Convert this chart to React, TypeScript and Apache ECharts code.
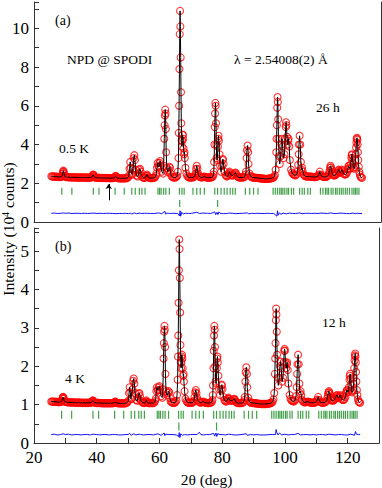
import React, { useEffect, useRef } from 'react';
import * as echarts from 'echarts';

const X_MIN = 20;
const X_MAX = 130;
const Y_MAX_A = 11.36;
const Y_MAX_B = 5.6;

// Panel (a): 0.5 K observed pattern (10^4 counts) as [2theta, intensity]
const obsA: number[][] = [
  [25.5,2.36],[25.8,2.35],[26.1,2.36],[26.4,2.34],[26.7,2.35],[27.0,2.33],[27.3,2.34],[27.6,2.33],[27.9,2.32],[28.2,2.33],[28.5,2.33],[28.7,2.34],
  [28.9,2.38],[29.1,2.5],[29.2,2.6],[29.3,2.65],[29.4,2.6],[29.5,2.52],[29.7,2.38],
  [30.0,2.33],[30.3,2.32],[30.6,2.31],[30.9,2.32],[31.2,2.31],[31.5,2.3],[31.8,2.31],[32.1,2.3],[32.4,2.31],[32.7,2.3],[33.0,2.3],[33.3,2.31],[33.6,2.3],[33.9,2.29],[34.2,2.3],[34.5,2.3],[34.8,2.29],[35.1,2.3],[35.4,2.3],[35.7,2.29],[36.0,2.3],[36.3,2.29],[36.6,2.3],[36.9,2.29],[37.2,2.29],[37.5,2.3],[37.8,2.29],[38.1,2.3],[38.35,2.32],
  [38.55,2.37],[38.7,2.43],[38.8,2.45],[38.9,2.42],[39.05,2.36],
  [39.3,2.3],[39.6,2.29],[39.9,2.28],[40.2,2.28],[40.5,2.29],[40.8,2.28],[41.1,2.27],[41.4,2.28],[41.7,2.28],[42.0,2.27],[42.3,2.28],[42.6,2.27],[42.9,2.27],[43.2,2.28],[43.5,2.27],[43.8,2.27],[44.1,2.26],[44.4,2.27],[44.7,2.27],[45.0,2.27],[45.3,2.28],
  [45.6,2.31],[45.8,2.36],[45.9,2.38],[46.0,2.36],[46.2,2.3],
  [46.5,2.27],[46.8,2.26],[47.1,2.26],[47.4,2.25],[47.7,2.26],[48.0,2.25],[48.3,2.26],[48.6,2.25],[48.9,2.26],[49.2,2.26],[49.5,2.27],[49.8,2.3],
  [50.1,2.4],[50.3,2.75],[50.5,3.1],[50.7,2.8],[50.9,2.5],[51.1,2.45],[51.4,2.75],[51.6,3.3],[51.8,3.45],[52.0,3.2],[52.2,2.7],[52.5,2.4],[52.9,2.35],[53.2,2.5],[53.4,2.7],[53.6,2.75],[53.8,2.6],[54.1,2.4],
  [54.5,2.3],[54.8,2.28],[55.1,2.28],[55.35,2.31],[55.6,2.38],[55.8,2.45],[56.0,2.38],[56.2,2.31],[56.5,2.28],[56.8,2.27],[57.1,2.27],[57.4,2.27],[57.7,2.27],[58.0,2.28],[58.3,2.3],[58.6,2.38],
  [58.8,2.5],[59.0,2.8],[59.2,3.05],[59.4,2.9],[59.6,2.85],[59.8,3.05],[60.0,3.15],[60.2,2.9],[60.5,2.6],[60.9,2.5],[61.1,2.9],[61.3,4.3],[61.4,5.0],[61.5,5.5],[61.6,5.8],[61.7,5.6],[61.8,4.8],[61.9,3.6],[62.1,2.8],[62.4,2.6],[62.7,2.7],[62.9,2.85],[63.1,2.8],[63.3,2.5],
  [63.6,2.36],[63.9,2.32],[64.2,2.3],[64.5,2.3],[64.8,2.3],[65.1,2.32],[65.4,2.38],
  [65.6,2.6],[65.8,3.3],[65.9,4.6],[66.0,6.0],[66.1,7.9],[66.2,9.7],[66.3,10.9],[66.4,10.1],[66.5,8.5],[66.6,6.7],[66.7,5.1],[66.8,4.2],[66.9,3.9],[67.0,4.2],[67.1,4.5],[67.2,4.5],[67.3,4.3],[67.4,3.8],[67.6,3.5],[67.7,3.6],[67.8,3.3],[68.0,2.8],[68.3,2.5],
  [68.6,2.38],[68.9,2.32],[69.2,2.3],[69.5,2.3],[69.8,2.3],[70.1,2.3],[70.4,2.31],[70.7,2.32],[71.0,2.4],
  [71.2,2.5],[71.4,2.75],[71.6,2.9],[71.8,2.75],[72.0,2.5],
  [72.2,2.4],[72.5,2.33],[72.8,2.31],[73.1,2.3],[73.4,2.31],[73.7,2.33],[74.0,2.35],[74.3,2.32],[74.6,2.3],[74.9,2.3],[75.2,2.3],[75.5,2.29],[75.8,2.3],[76.1,2.3],[76.4,2.31],[76.7,2.35],[76.9,2.45],
  [77.0,2.6],[77.1,3.1],[77.2,4.0],[77.3,4.9],[77.4,5.6],[77.5,6.15],[77.6,6.0],[77.7,5.1],[77.8,4.0],[77.9,3.3],[78.1,3.2],[78.3,3.9],[78.4,4.3],[78.5,4.45],[78.6,4.2],[78.8,3.5],[79.0,2.9],[79.3,2.6],[79.6,2.9],[79.8,3.2],[79.9,3.25],[80.1,3.0],
  [80.4,2.6],[80.7,2.42],[81.0,2.36],[81.3,2.36],[81.6,2.43],[81.8,2.52],[82.0,2.6],[82.2,2.52],[82.5,2.42],[82.8,2.4],[83.1,2.41],[83.4,2.46],[83.7,2.52],[83.9,2.55],[84.1,2.46],[84.4,2.36],[84.7,2.32],[85.0,2.3],[85.3,2.3],[85.6,2.3],[85.9,2.3],[86.2,2.3],[86.5,2.31],[86.8,2.34],[87.05,2.45],
  [87.2,2.6],[87.4,3.3],[87.5,3.7],[87.7,3.95],[87.9,3.6],[88.0,3.0],
  [88.3,2.5],[88.6,2.38],[88.9,2.33],[89.2,2.3],[89.5,2.3],[89.8,2.29],[90.1,2.29],[90.4,2.28],[90.7,2.28],[91.0,2.27],[91.3,2.27],[91.6,2.26],[91.9,2.25],[92.2,2.25],[92.5,2.24],[92.8,2.24],[93.1,2.23],[93.4,2.23],[93.7,2.23],[94.0,2.23],[94.3,2.24],[94.6,2.24],[94.9,2.25],[95.2,2.26],[95.5,2.27],[95.8,2.29],[96.1,2.33],[96.35,2.42],
  [96.6,2.7],[96.8,3.6],[96.9,4.3],[97.0,5.0],[97.1,5.9],[97.2,6.45],[97.3,6.2],[97.4,5.3],[97.5,4.3],[97.7,3.4],[97.9,3.0],[98.2,3.4],[98.4,4.0],[98.6,4.3],[98.8,3.9],[99.1,3.3],[99.4,3.5],[99.6,4.3],[99.8,4.9],[99.9,5.15],[100.0,5.0],[100.2,4.4],[100.4,4.0],[100.6,4.2],[100.7,4.3],[100.9,3.9],[101.1,3.2],
  [101.5,2.7],[101.8,2.55],[102.1,2.48],[102.4,2.44],[102.7,2.41],[103.0,2.42],[103.3,2.46],[103.55,2.6],[103.75,2.95],
  [103.9,3.5],[104.0,4.0],[104.2,4.45],[104.4,4.0],[104.6,3.1],[104.8,2.7],[105.0,2.8],[105.2,2.6],
  [105.5,2.45],[105.8,2.38],[106.1,2.36],[106.4,2.35],[106.7,2.35],[107.0,2.35],[107.3,2.36],[107.6,2.35],[107.9,2.33],[108.2,2.33],[108.5,2.33],[108.8,2.32],[109.1,2.32],[109.4,2.33],[109.7,2.34],[110.0,2.37],[110.3,2.45],[110.6,2.6],[110.9,2.45],[111.2,2.37],[111.5,2.35],[111.8,2.33],[112.1,2.33],[112.4,2.33],[112.7,2.34],[113.0,2.36],[113.3,2.42],[113.5,2.52],[113.7,2.65],[113.85,2.8],[114.0,2.9],[114.15,2.82],[114.3,2.7],[114.5,2.55],[114.7,2.45],[114.9,2.41],[115.2,2.4],[115.5,2.42],[115.7,2.45],[115.9,2.5],[116.1,2.55],[116.4,2.65],[116.6,2.7],[116.8,2.62],[117.0,2.55],[117.2,2.56],[117.4,2.62],[117.6,2.7],[117.8,2.66],[118.1,2.5],[118.4,2.46],[118.7,2.45],[119.0,2.48],[119.3,2.58],[119.5,2.75],[119.7,2.88],[119.8,2.9],[120.0,2.78],[120.2,2.75],[120.4,3.0],[120.6,3.3],[120.7,3.45],[120.8,3.5],[120.95,3.3],[121.1,3.05],[121.3,2.8],[121.5,2.75],[121.7,2.85],[121.9,3.2],[122.0,3.5],[122.1,3.85],[122.2,4.1],[122.3,4.3],[122.4,4.35],[122.5,4.25],[122.6,4.0],[122.7,3.6],[122.8,3.2],[122.95,2.85],[123.1,2.6],[123.3,2.45],[123.5,2.35],[123.7,2.3],[124.0,2.28],
];

// Panel (b): 4 K observed pattern
const obsB: number[][] = [
  [25.5,1.08],[25.8,1.08],[26.1,1.08],[26.4,1.07],[26.7,1.08],[27.0,1.07],[27.3,1.07],[27.6,1.07],[27.9,1.06],[28.2,1.07],[28.5,1.07],[28.7,1.08],
  [28.9,1.1],[29.1,1.16],[29.2,1.19],[29.3,1.2],[29.4,1.18],[29.5,1.15],[29.7,1.09],
  [30.0,1.07],[30.3,1.07],[30.6,1.06],[30.9,1.06],[31.2,1.06],[31.5,1.06],[31.8,1.05],[32.1,1.06],[32.4,1.06],[32.7,1.05],[33.0,1.06],[33.3,1.05],[33.6,1.05],[33.9,1.05],[34.2,1.06],[34.5,1.05],[34.8,1.05],[35.1,1.05],[35.4,1.04],[35.7,1.05],[36.0,1.05],[36.3,1.04],[36.6,1.05],[36.9,1.05],[37.2,1.04],[37.5,1.05],[37.8,1.05],[38.1,1.05],[38.35,1.06],
  [38.55,1.08],[38.7,1.1],[38.8,1.11],[38.9,1.1],[39.05,1.07],
  [39.3,1.05],[39.6,1.05],[39.9,1.04],[40.2,1.04],[40.5,1.05],[40.8,1.04],[41.1,1.04],[41.4,1.04],[41.7,1.04],[42.0,1.03],[42.3,1.04],[42.6,1.04],[42.9,1.03],[43.2,1.04],[43.5,1.04],[43.8,1.03],[44.1,1.04],[44.4,1.04],[44.7,1.03],[45.0,1.04],[45.3,1.04],
  [45.6,1.05],[45.8,1.07],[45.9,1.08],[46.0,1.07],[46.2,1.05],
  [46.5,1.04],[46.8,1.04],[47.1,1.03],[47.4,1.04],[47.7,1.03],[48.0,1.03],[48.3,1.04],[48.6,1.03],[48.9,1.03],[49.2,1.04],[49.5,1.04],[49.8,1.06],
  [50.1,1.1],[50.3,1.3],[50.5,1.45],[50.7,1.32],[50.9,1.15],[51.1,1.15],[51.4,1.4],[51.6,1.62],[51.8,1.68],[52.0,1.55],[52.2,1.3],[52.5,1.12],[52.9,1.1],[53.2,1.18],[53.4,1.28],[53.6,1.3],[53.8,1.22],[54.1,1.1],
  [54.5,1.06],[54.8,1.05],[55.1,1.04],[55.35,1.05],[55.6,1.08],[55.8,1.11],[56.0,1.08],[56.2,1.05],[56.5,1.04],[56.8,1.04],[57.1,1.04],[57.4,1.04],[57.7,1.04],[58.0,1.04],[58.3,1.05],[58.6,1.09],
  [58.8,1.15],[59.0,1.35],[59.2,1.45],[59.4,1.38],[59.6,1.38],[59.8,1.45],[60.0,1.48],[60.2,1.38],[60.5,1.22],[60.9,1.18],[61.1,1.4],[61.3,2.2],[61.4,2.6],[61.5,2.9],[61.6,3.05],[61.7,2.95],[61.8,2.5],[61.9,1.8],[62.1,1.35],[62.4,1.25],[62.7,1.3],[62.9,1.35],[63.1,1.32],[63.3,1.18],
  [63.6,1.08],[63.9,1.06],[64.2,1.05],[64.5,1.05],[64.8,1.05],[65.1,1.06],[65.4,1.1],
  [65.6,1.25],[65.8,1.65],[65.9,2.25],[66.0,2.8],[66.1,3.65],[66.2,4.5],[66.3,5.3],[66.4,5.05],[66.5,4.3],[66.6,3.4],[66.7,2.55],[66.8,2.1],[66.9,1.95],[67.0,2.1],[67.1,2.25],[67.2,2.3],[67.3,2.2],[67.4,1.95],[67.6,1.75],[67.7,1.8],[67.8,1.6],[68.0,1.35],[68.3,1.15],
  [68.6,1.09],[68.9,1.06],[69.2,1.05],[69.5,1.05],[69.8,1.05],[70.1,1.05],[70.4,1.05],[70.7,1.06],[71.0,1.1],
  [71.2,1.2],[71.4,1.32],[71.6,1.38],[71.8,1.3],[72.0,1.18],
  [72.2,1.12],[72.5,1.08],[72.8,1.06],[73.1,1.05],[73.4,1.06],[73.7,1.07],[74.0,1.08],[74.3,1.06],[74.6,1.05],[74.9,1.05],[75.2,1.04],[75.5,1.04],[75.8,1.04],[76.1,1.05],[76.4,1.05],[76.7,1.07],[76.9,1.12],
  [77.0,1.25],[77.1,1.5],[77.2,1.95],[77.3,2.4],[77.4,2.8],[77.5,3.05],[77.6,2.95],[77.7,2.5],[77.8,2.0],[77.9,1.6],[78.1,1.55],[78.3,1.95],[78.4,2.2],[78.5,2.25],[78.6,2.1],[78.8,1.75],[79.0,1.4],[79.3,1.25],[79.6,1.4],[79.8,1.5],[79.9,1.52],[80.1,1.4],
  [80.4,1.2],[80.7,1.12],[81.0,1.09],[81.3,1.08],[81.6,1.11],[81.8,1.15],[82.0,1.18],[82.2,1.15],[82.5,1.11],[82.8,1.1],[83.1,1.1],[83.4,1.12],[83.7,1.14],[83.9,1.15],[84.1,1.12],[84.4,1.07],[84.7,1.05],[85.0,1.04],[85.3,1.04],[85.6,1.04],[85.9,1.04],[86.2,1.04],[86.5,1.05],[86.8,1.06],[87.05,1.12],
  [87.2,1.2],[87.4,1.6],[87.5,1.85],[87.7,1.97],[87.9,1.8],[88.0,1.45],
  [88.3,1.18],[88.6,1.09],[88.9,1.06],[89.2,1.05],[89.5,1.05],[89.8,1.04],[90.1,1.04],[90.4,1.04],[90.7,1.03],[91.0,1.03],[91.3,1.03],[91.6,1.02],[91.9,1.02],[92.2,1.02],[92.5,1.02],[92.8,1.01],[93.1,1.02],[93.4,1.02],[93.7,1.01],[94.0,1.02],[94.3,1.02],[94.6,1.02],[94.9,1.03],[95.2,1.03],[95.5,1.04],[95.8,1.05],[96.1,1.08],[96.35,1.14],
  [96.6,1.3],[96.8,1.8],[96.9,2.2],[97.0,2.6],[97.1,3.2],[97.2,3.5],[97.3,3.35],[97.4,2.9],[97.5,2.3],[97.7,1.7],[97.9,1.5],[98.2,1.7],[98.4,2.0],[98.6,2.12],[98.8,1.95],[99.1,1.6],[99.4,1.7],[99.6,2.1],[99.8,2.4],[99.9,2.45],[100.0,2.4],[100.2,2.1],[100.4,1.95],[100.6,2.05],[100.7,2.1],[100.9,1.9],[101.1,1.55],
  [101.5,1.25],[101.8,1.15],[102.1,1.11],[102.4,1.1],[102.7,1.08],[103.0,1.09],[103.3,1.12],[103.55,1.22],[103.75,1.45],
  [103.9,1.8],[104.0,2.05],[104.2,2.3],[104.4,2.05],[104.6,1.55],[104.8,1.3],[105.0,1.35],[105.2,1.25],
  [105.5,1.12],[105.8,1.08],[106.1,1.06],[106.4,1.06],[106.7,1.06],[107.0,1.07],[107.3,1.08],[107.6,1.07],[107.9,1.06],[108.2,1.05],[108.5,1.05],[108.8,1.05],[109.1,1.05],[109.4,1.05],[109.7,1.06],[110.0,1.08],[110.3,1.13],[110.6,1.2],[110.9,1.12],[111.2,1.07],[111.5,1.06],[111.8,1.05],[112.1,1.05],[112.4,1.05],[112.7,1.06],[113.0,1.07],[113.3,1.1],[113.5,1.17],[113.7,1.25],[113.85,1.31],[114.0,1.35],[114.15,1.32],[114.3,1.28],[114.5,1.19],[114.7,1.13],[114.9,1.11],[115.2,1.1],[115.5,1.11],[115.7,1.12],[115.9,1.15],[116.1,1.18],[116.4,1.23],[116.6,1.25],[116.8,1.21],[117.0,1.17],[117.2,1.18],[117.4,1.21],[117.6,1.25],[117.8,1.22],[118.1,1.15],[118.4,1.12],[118.7,1.12],[119.0,1.14],[119.3,1.2],[119.5,1.3],[119.7,1.36],[119.8,1.38],[120.0,1.32],[120.2,1.33],[120.4,1.45],[120.6,1.65],[120.7,1.75],[120.8,1.8],[120.95,1.68],[121.1,1.52],[121.3,1.35],[121.5,1.32],[121.7,1.38],[121.9,1.55],[122.0,1.7],[122.1,1.95],[122.2,2.15],[122.3,2.28],[122.4,2.33],[122.5,2.25],[122.6,2.1],[122.7,1.85],[122.8,1.6],[122.95,1.38],[123.1,1.25],[123.3,1.14],[123.5,1.08],[123.7,1.06],[124.0,1.05],
];

// Difference curves (obs - calc, offset)
const diffA: number[][] = [
  [25.5,0.45],[26.5,0.46],[27.5,0.44],[28.5,0.45],[29.3,0.47],[30,0.45],[31,0.46],[32,0.44],[33,0.45],[34,0.45],[35,0.44],[36,0.45],[37,0.44],[38,0.45],[39,0.46],[40,0.44],[41,0.45],[42,0.44],[43,0.45],[44,0.45],[45,0.44],[46,0.43],[47,0.44],[48,0.44],[49,0.45],[50,0.43],[50.5,0.46],[51,0.41],[51.8,0.47],[52.5,0.43],[53.5,0.46],[54,0.44],[55,0.45],[56,0.45],[57,0.44],[58,0.44],[59.5,0.47],[60.5,0.43],[61.5,0.55],[61.7,0.4],[62,0.46],[63,0.44],[64,0.45],[65.5,0.44],[66.1,0.32],[66.3,0.58],[66.5,0.3],[66.8,0.5],[67.3,0.42],[68,0.45],[69,0.44],[70,0.45],[71.6,0.5],[72.5,0.44],[73.5,0.46],[75,0.45],[76,0.44],[77.3,0.52],[77.6,0.38],[78,0.5],[78.3,0.38],[78.6,0.52],[79,0.45],[80,0.43],[81,0.44],[82,0.46],[83,0.45],[84,0.43],[85,0.44],[86,0.45],[87.7,0.47],[88,0.42],[89,0.45],[90,0.44],[91,0.45],[92,0.44],[93,0.44],[94,0.45],[95,0.44],[96,0.44],[97.0,0.3],[97.2,0.58],[97.4,0.35],[97.8,0.47],[98.3,0.4],[99,0.46],[100,0.42],[101,0.46],[102,0.44],[103,0.44],[104.2,0.47],[105,0.43],[106,0.45],[107,0.45],[108,0.44],[109,0.45],[110,0.44],[111,0.46],[112,0.45],[113,0.44],[114,0.47],[115,0.44],[116,0.44],[117,0.46],[118,0.45],[119,0.44],[120,0.43],[121,0.46],[122,0.43],[122.4,0.46],[123,0.44],[124,0.44],
];
const diffB: number[][] = [
  [25.5,0.22],[26.5,0.23],[27.5,0.21],[28.5,0.22],[29.3,0.24],[30,0.22],[31,0.23],[32,0.21],[33,0.22],[34,0.22],[35,0.21],[36,0.22],[37,0.22],[38,0.21],[38.8,0.23],[40,0.22],[41,0.21],[42,0.22],[43,0.22],[44,0.21],[45,0.22],[46,0.22],[47,0.21],[48,0.21],[49,0.22],[50,0.22],[50.5,0.25],[51,0.2],[51.8,0.24],[52.5,0.21],[53.5,0.23],[54,0.22],[55,0.21],[56,0.22],[57,0.22],[58,0.21],[59.5,0.24],[60.5,0.2],[61.5,0.26],[61.7,0.19],[62,0.23],[63,0.22],[64,0.22],[65.5,0.21],[66.1,0.16],[66.3,0.27],[66.5,0.14],[66.8,0.24],[67.3,0.2],[68,0.22],[69,0.21],[70,0.22],[71,0.22],[72,0.22],[72.7,0.28],[73.2,0.22],[74,0.21],[75,0.22],[76,0.22],[77.3,0.25],[77.6,0.18],[78,0.26],[78.3,0.17],[78.6,0.25],[79,0.22],[80,0.22],[81,0.21],[82,0.23],[83,0.22],[84,0.21],[85,0.21],[86,0.22],[87.7,0.24],[88,0.2],[89,0.22],[90,0.21],[91,0.22],[92,0.21],[93,0.21],[94,0.21],[95,0.22],[96,0.22],[97.0,0.22],[97.2,0.35],[97.4,0.28],[97.8,0.21],[98.3,0.26],[99,0.21],[100,0.23],[101,0.21],[102,0.22],[103,0.22],[104.2,0.25],[105,0.21],[106,0.22],[107,0.22],[108,0.21],[109,0.22],[110,0.21],[111,0.22],[112,0.22],[113,0.21],[114,0.23],[115,0.22],[116,0.21],[117,0.22],[118,0.22],[119,0.21],[120,0.21],[121,0.23],[122.2,0.2],[122.5,0.3],[122.8,0.23],[123.5,0.22],[124,0.22],
];

// Bragg reflection positions (2theta, deg)
const braggMain: number[] = [
  28.8, 32.0, 38.8, 40.6, 45.7, 48.6, 51.0, 52.1, 53.4, 54.2, 55.2, 59.3, 59.8, 60.3, 61.1, 61.8, 62.9,
  66.1, 66.9, 67.6, 70.4, 71.6, 72.7, 74.0, 77.3, 78.2, 79.3, 80.3, 81.2, 82.2, 83.0, 83.8, 87.0, 88.4,
  89.6, 91.0, 95.8, 96.5, 97.2, 97.9, 98.4, 98.9, 99.5, 100.2, 100.7, 101.6, 102.3, 104.2, 105.0, 105.7,
  106.8, 107.6, 110.8, 111.6, 112.4, 112.9, 113.4, 114.2, 114.8, 115.6, 116.1, 116.8, 117.4, 118.0,
  118.7, 119.3, 120.0, 120.8, 121.4, 121.9, 122.4, 123.0,
];
const braggAl: number[] = [66.2, 78.2];
const braggRowsA: number[] = [1.59, 0.955];
const braggRowsB: number[] = [0.733, 0.43];

// Arrow marking the weak extra reflection in (a)
const arrowX = 43.7;
const arrowY: number[] = [1.12, 1.96];

const SERIF = '"Liberation Serif", "Times New Roman", serif';

function buildOption() {
  const axisLineStyle = { color: '#333', width: 1 };
  const hiddenX = (gridIndex: number, position: 'top' | 'bottom', showLine: boolean) => ({
    type: 'value', gridIndex, position, min: X_MIN, max: X_MAX,
    axisLine: { show: showLine, lineStyle: axisLineStyle },
    axisTick: { show: false }, axisLabel: { show: false }, splitLine: { show: false },
  });
  const hiddenY = (gridIndex: number, max: number) => ({
    type: 'value', gridIndex, position: 'right', min: 0, max,
    axisLine: { show: true, lineStyle: axisLineStyle },
    axisTick: { show: false }, axisLabel: { show: false }, splitLine: { show: false },
  });
  const tickStyle = { inside: true, length: 5, lineStyle: { color: '#333', width: 1 } };
  const labelFont = { fontFamily: SERIF, fontSize: 17, color: '#000' };

  const bragg = (xs: number[], y: number, xi: number, yi: number, h: number) => ({
    type: 'scatter', xAxisIndex: xi, yAxisIndex: yi, symbol: 'rect', symbolSize: [1.2, h],
    itemStyle: { color: '#13891a' }, silent: true, z: 3,
    data: xs.map((x) => [x, y]),
  });
  const obs = (data: number[][], xi: number, yi: number) => ({
    type: 'scatter', xAxisIndex: xi, yAxisIndex: yi, symbol: 'circle', symbolSize: 7,
    itemStyle: { color: 'rgba(255,255,255,0)', borderColor: '#ff0000', borderWidth: 1.1 },
    silent: true, z: 2, data,
  });
  const calc = (data: number[][], xi: number, yi: number) => ({
    type: 'line', xAxisIndex: xi, yAxisIndex: yi, showSymbol: false, symbol: 'none',
    lineStyle: { color: '#000', width: 1 }, silent: true, z: 4, data,
  });
  const diff = (data: number[][], xi: number, yi: number) => ({
    type: 'line', xAxisIndex: xi, yAxisIndex: yi, showSymbol: false, symbol: 'none',
    lineStyle: { color: '#1010ff', width: 1 }, silent: true, z: 4, data,
  });

  return {
    animation: false,
    backgroundColor: '#fff',
    grid: [
      { left: 34, right: 1, top: 2, height: 220, containLabel: false },
      { left: 34, right: 1, top: 228, height: 221.5, containLabel: false },
    ],
    xAxis: [
      hiddenX(0, 'bottom', false),
      hiddenX(0, 'top', true),
      {
        type: 'value', gridIndex: 1, position: 'bottom', min: X_MIN, max: X_MAX, interval: 10,
        axisLine: { show: true, onZero: false, lineStyle: axisLineStyle },
        axisTick: tickStyle,
        axisLabel: {
          ...labelFont, lineHeight: 13, margin: 8,
          formatter: (v: number) => (Math.round(v) % 20 === 0 && v <= 120 ? String(Math.round(v)) : ''),
        },
        splitLine: { show: false },
        name: '2θ (deg)', nameLocation: 'middle', nameGap: 28,
        nameTextStyle: { fontFamily: SERIF, fontSize: 15.5, color: '#000' },
      },
      hiddenX(1, 'top', false),
    ],
    yAxis: [
      {
        type: 'value', gridIndex: 0, position: 'left', min: 0, max: Y_MAX_A, interval: 1,
        axisLine: { show: true, onZero: false, lineStyle: axisLineStyle },
        axisTick: tickStyle,
        axisLabel: {
          ...labelFont, lineHeight: 12, margin: 5,
          formatter: (v: number) => (Math.abs(v - Math.round(v)) < 1e-6 && Math.round(v) % 2 === 0 && v <= 10 ? String(Math.round(v)) : ''),
        },
        splitLine: { show: false },
      },
      hiddenY(0, Y_MAX_A),
      {
        type: 'value', gridIndex: 1, position: 'left', min: 0, max: Y_MAX_B, interval: 0.5,
        axisLine: { show: true, onZero: false, lineStyle: axisLineStyle },
        axisTick: tickStyle,
        axisLabel: {
          ...labelFont, lineHeight: 12, margin: 5,
          formatter: (v: number) => (Math.abs(v - Math.round(v)) < 1e-6 && v <= 5 ? String(Math.round(v)) : ''),
        },
        splitLine: { show: false },
      },
      hiddenY(1, Y_MAX_B),
    ],
    series: [
      obs(obsA, 0, 0),
      calc(obsA, 0, 0),
      bragg(braggMain, braggRowsA[0], 0, 0, 7),
      bragg(braggAl, braggRowsA[1], 0, 0, 7),
      diff(diffA, 0, 0),
      {
        type: 'lines', coordinateSystem: 'cartesian2d', xAxisIndex: 0, yAxisIndex: 0,
        symbol: ['none', 'arrow'], symbolSize: 5, silent: true, z: 5,
        lineStyle: { color: '#000', width: 1, opacity: 1 },
        data: [{ coords: [[arrowX, arrowY[0]], [arrowX, arrowY[1]]] }],
      },
      obs(obsB, 2, 2),
      calc(obsB, 2, 2),
      bragg(braggMain, braggRowsB[0], 2, 2, 8),
      bragg(braggAl, braggRowsB[1], 2, 2, 8),
      diff(diffB, 2, 2),
    ],
    graphic: [
      { type: 'text', x: 55, y: 20, style: { text: '(a)', font: `14px ${SERIF}`, fill: '#000', verticalAlign: 'middle' } },
      { type: 'text', x: 67, y: 59, style: { text: 'NPD @ SPODI', font: `13.5px ${SERIF}`, fill: '#000', verticalAlign: 'middle' } },
      { type: 'text', x: 234, y: 59, style: { text: 'λ = 2.54008(2) Å', font: `13.5px ${SERIF}`, fill: '#000', verticalAlign: 'middle' } },
      { type: 'text', x: 316, y: 107, style: { text: '26 h', font: `13.5px ${SERIF}`, fill: '#000', verticalAlign: 'middle' } },
      { type: 'text', x: 59, y: 148, style: { text: '0.5 K', font: `13.5px ${SERIF}`, fill: '#000', verticalAlign: 'middle' } },
      { type: 'text', x: 55, y: 246, style: { text: '(b)', font: `14px ${SERIF}`, fill: '#000', verticalAlign: 'middle' } },
      { type: 'text', x: 322, y: 322, style: { text: '12 h', font: `13.5px ${SERIF}`, fill: '#000', verticalAlign: 'middle' } },
      { type: 'text', x: 65, y: 378, style: { text: '4 K', font: `13.5px ${SERIF}`, fill: '#000', verticalAlign: 'middle' } },
      {
        type: 'text', x: 8, y: 229, rotation: Math.PI / 2,
        style: {
          text: 'Intensity (10{s|4} counts)',
          font: `15.5px ${SERIF}`, fill: '#000', align: 'center', verticalAlign: 'middle',
          rich: { s: { fontSize: 10, fontFamily: SERIF, verticalAlign: 'top', lineHeight: 16, fill: '#000' } },
        },
      },
    ],
  };
}

export default function App() {
  const ref = useRef<HTMLDivElement>(null);
  useEffect(() => {
    if (!ref.current) return;
    const chart = echarts.init(ref.current, null, { renderer: 'svg' });
    chart.setOption(buildOption() as any);
    return () => chart.dispose();
  }, []);
  return (
    <div
      ref={ref}
      style={{ position: 'fixed', left: 0, top: 0, width: 382, height: 488, background: '#fff' }}
    />
  );
}
